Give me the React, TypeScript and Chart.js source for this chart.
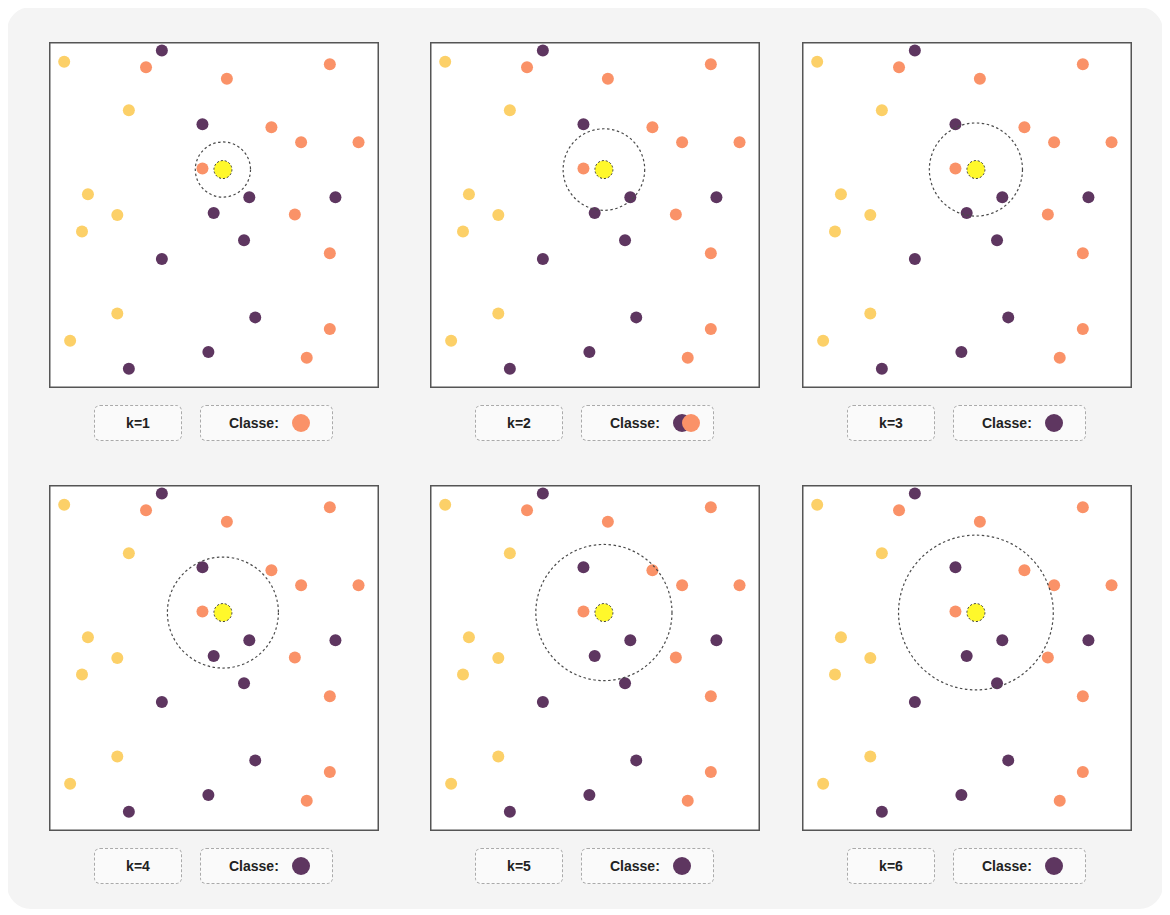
import React, { useEffect, useRef } from "react";
import { Chart, registerables } from "chart.js";

Chart.register(...registerables);

// ---- data (units: x 0..10, y 0..10.48, same unit length on both axes) ----
const kValues = [1, 2, 3, 4, 5, 6];

const yellowPoints: [number, number][] = [
  [0.46, 9.89], [2.42, 8.42], [1.18, 5.87], [2.07, 5.24], [1.0, 4.74], [2.07, 2.26], [0.64, 1.43],
];
const orangePoints: [number, number][] = [
  [2.94, 9.72], [5.39, 9.37], [8.51, 9.81], [6.74, 7.9], [7.64, 7.45], [9.38, 7.45],
  [4.65, 6.65], [7.45, 5.26], [8.51, 4.08], [8.51, 1.79], [7.81, 0.92],
];
const purplePoints: [number, number][] = [
  [3.42, 10.23], [4.65, 7.99], [6.07, 5.78], [8.68, 5.78], [4.99, 5.3], [5.91, 4.48],
  [3.42, 3.91], [6.25, 2.14], [4.83, 1.09], [2.42, 0.58],
];
const queryPoint: [number, number] = [5.27, 6.62];

const classLabels = ["jaune", "orange", "violet"];
const classColors = ["#FCD068", "#FA9268", "#5E3660"];
const classPoints = [yellowPoints, orangePoints, purplePoints];
const queryColor = "#FFF82B";

const X_MAX = 10;
const Y_MAX = 10.485;

type Neighbour = { cls: number; d: number };

function sortedNeighbours(): Neighbour[] {
  const list: Neighbour[] = [];
  classPoints.forEach((pts, cls) => {
    pts.forEach(([x, y]) => {
      list.push({ cls, d: Math.hypot(x - queryPoint[0], y - queryPoint[1]) });
    });
  });
  return list.sort((a, b) => a.d - b.d);
}

function vote(k: number): number[] {
  const nb = sortedNeighbours().slice(0, k);
  const counts = classLabels.map((_, c) => nb.filter((n) => n.cls === c).length);
  const max = Math.max(...counts);
  const winners = counts.map((c, i) => (c === max ? i : -1)).filter((i) => i >= 0);
  const firstIdx = (c: number) => nb.findIndex((n) => n.cls === c);
  // nearest class drawn last (in front)
  return winners.sort((a, b) => firstIdx(b) - firstIdx(a));
}

function Panel({ k, left, top }: { k: number; left: number; top: number }) {
  const ref = useRef<HTMLCanvasElement | null>(null);

  useEffect(() => {
    if (!ref.current) return;
    const neighbourPlugin = {
      id: "neighbourCircle",
      afterDatasetsDraw(chart: any) {
        const { ctx, scales } = chart;
        const xs = scales.x;
        const ys = scales.y;
        const qx = xs.getPixelForValue(queryPoint[0]);
        const qy = ys.getPixelForValue(queryPoint[1]);
        const nb = sortedNeighbours();
        const rData = nb[k - 1].d + 0.4 * (nb[k].d - nb[k - 1].d);
        const rPx = xs.getPixelForValue(rData) - xs.getPixelForValue(0);
        ctx.save();
        ctx.beginPath();
        ctx.setLineDash([2.5, 2.5]);
        ctx.strokeStyle = "#4a4a4a";
        ctx.lineWidth = 1.2;
        ctx.arc(qx, qy, rPx, 0, Math.PI * 2);
        ctx.stroke();
        ctx.beginPath();
        ctx.setLineDash([2, 2]);
        ctx.strokeStyle = "#333";
        ctx.lineWidth = 1;
        ctx.arc(qx, qy, 9, 0, Math.PI * 2);
        ctx.stroke();
        ctx.restore();
      },
    };

    const datasets: any[] = classPoints.map((pts, i) => ({
      label: classLabels[i],
      data: pts.map(([x, y]) => ({ x, y })),
      backgroundColor: classColors[i],
      borderWidth: 0,
      pointRadius: 6,
      pointHoverRadius: 6,
      clip: false,
    }));
    datasets.push({
      label: "query",
      data: [{ x: queryPoint[0], y: queryPoint[1] }],
      backgroundColor: queryColor,
      borderWidth: 0,
      pointRadius: 9,
      clip: false,
    });

    const chart = new Chart(ref.current, {
      type: "scatter",
      data: { datasets },
      options: {
        responsive: false,
        animation: false,
        layout: { padding: 0, autoPadding: false },
        events: [],
        plugins: { legend: { display: false }, tooltip: { enabled: false } },
        scales: {
          x: { type: "linear", min: 0, max: X_MAX, display: false },
          y: { type: "linear", min: 0, max: Y_MAX, display: false },
        },
      },
      plugins: [neighbourPlugin],
    });
    return () => chart.destroy();
  }, [k]);

  const winners = vote(k);
  const boxStyle: React.CSSProperties = {
    position: "absolute",
    top: top + 363,
    height: 36,
    boxSizing: "border-box",
    border: "1px dashed #aaa",
    borderRadius: 6,
    background: "#fafafa",
    display: "flex",
    alignItems: "center",
    fontFamily: "'Liberation Sans', Arial, sans-serif",
    fontWeight: "bold",
    fontSize: 14,
    color: "#222",
  };

  return (
    <>
      <div
        style={{
          position: "absolute",
          left,
          top,
          width: 330,
          height: 346,
          background: "#fff",
          boxShadow: "inset 0 0 0 1.5px #555",
        }}
      >
        <canvas ref={ref} width={330} height={346} style={{ position: "absolute", left: 0, top: 0 }} />
      </div>
      <div style={{ ...boxStyle, left: left + 45, width: 88, justifyContent: "center" }}>k={k}</div>
      <div style={{ ...boxStyle, left: left + 151, width: 133, paddingLeft: 28 }}>
        <span>Classe:</span>
        <span style={{ position: "relative", display: "inline-block", marginLeft: 13, width: 18 + (winners.length - 1) * 9, height: 18 }}>
          {winners.map((c, i) => (
            <span
              key={c}
              style={{
                position: "absolute",
                left: i * 9,
                top: 0,
                width: 18,
                height: 18,
                borderRadius: "50%",
                background: classColors[c],
              }}
            />
          ))}
        </span>
      </div>
    </>
  );
}

const colLefts = [42, 423, 795];
const rowTops = [35, 478];

export default function App() {
  return (
    <div
      style={{
        position: "relative",
        width: 1156,
        height: 902,
        marginLeft: -1,
        marginTop: -1,
        background: "#f4f4f4",
        borderRadius: 24,
      }}
    >
      {kValues.map((k, i) => (
        <Panel key={k} k={k} left={colLefts[i % 3]} top={rowTops[Math.floor(i / 3)]} />
      ))}
    </div>
  );
}
